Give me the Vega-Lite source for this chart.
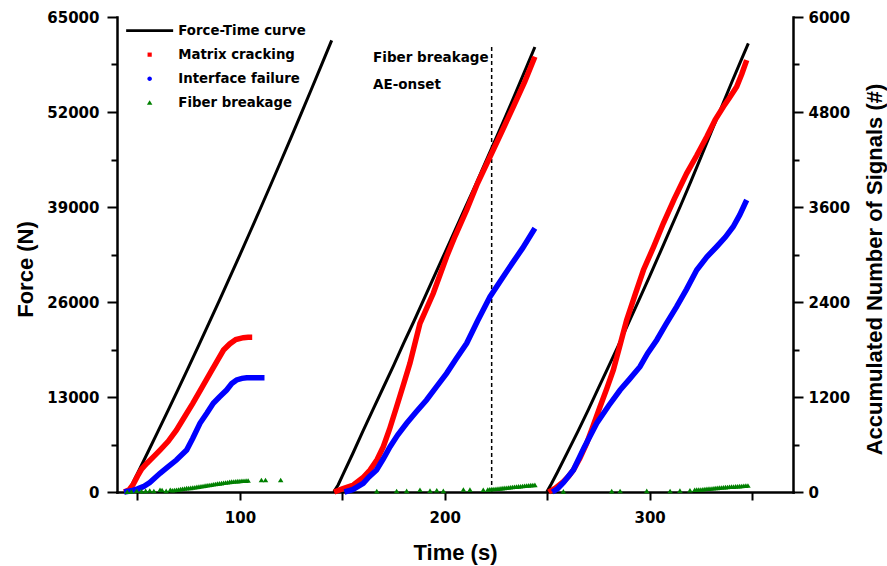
{
  "$schema": "https://vega.github.io/schema/vega-lite/v6.json",
  "width": 676,
  "height": 475,
  "autosize": {"type": "none"},
  "padding": {"left": 117, "top": 17, "right": 94, "bottom": 74},
  "background": "white",
  "config": {
    "view": {"stroke": null},
    "axis": {
      "grid": false,
      "domainColor": "black",
      "domainWidth": 2.5,
      "domainCap": "square",
      "tickColor": "black",
      "tickWidth": 2,
      "labelFont": "DejaVu Sans",
      "labelFontWeight": "bold",
      "labelFontSize": 15,
      "labelColor": "black",
      "titleFont": "Liberation Sans",
      "titleFontWeight": "bold",
      "titleFontSize": 22,
      "titleColor": "black"
    }
  },
  "datasets": {
    "force": [
      {"series": "Force-Time curve", "cycle": 1, "t": 45.5, "v": 0},
      {"series": "Force-Time curve", "cycle": 1, "t": 50, "v": 2545},
      {"series": "Force-Time curve", "cycle": 1, "t": 55, "v": 5401},
      {"series": "Force-Time curve", "cycle": 1, "t": 60, "v": 8287},
      {"series": "Force-Time curve", "cycle": 1, "t": 65, "v": 11203},
      {"series": "Force-Time curve", "cycle": 1, "t": 70, "v": 14149},
      {"series": "Force-Time curve", "cycle": 1, "t": 75, "v": 17125},
      {"series": "Force-Time curve", "cycle": 1, "t": 80, "v": 20131},
      {"series": "Force-Time curve", "cycle": 1, "t": 85, "v": 23167},
      {"series": "Force-Time curve", "cycle": 1, "t": 90, "v": 26233},
      {"series": "Force-Time curve", "cycle": 1, "t": 95, "v": 29329},
      {"series": "Force-Time curve", "cycle": 1, "t": 100, "v": 32455},
      {"series": "Force-Time curve", "cycle": 1, "t": 105, "v": 35611},
      {"series": "Force-Time curve", "cycle": 1, "t": 110, "v": 38797},
      {"series": "Force-Time curve", "cycle": 1, "t": 115, "v": 42013},
      {"series": "Force-Time curve", "cycle": 1, "t": 120, "v": 45259},
      {"series": "Force-Time curve", "cycle": 1, "t": 125, "v": 48535},
      {"series": "Force-Time curve", "cycle": 1, "t": 130, "v": 51841},
      {"series": "Force-Time curve", "cycle": 1, "t": 135, "v": 55177},
      {"series": "Force-Time curve", "cycle": 1, "t": 140, "v": 58543},
      {"series": "Force-Time curve", "cycle": 1, "t": 144.8, "v": 61802},
      {"series": "Force-Time curve", "cycle": 2, "t": 145.8, "v": 0},
      {"series": "Force-Time curve", "cycle": 2, "t": 148, "v": 1000},
      {"series": "Force-Time curve", "cycle": 2, "t": 150, "v": 2200},
      {"series": "Force-Time curve", "cycle": 2, "t": 155, "v": 5200},
      {"series": "Force-Time curve", "cycle": 2, "t": 160, "v": 8300},
      {"series": "Force-Time curve", "cycle": 2, "t": 165, "v": 11300},
      {"series": "Force-Time curve", "cycle": 2, "t": 170, "v": 14300},
      {"series": "Force-Time curve", "cycle": 2, "t": 175, "v": 17300},
      {"series": "Force-Time curve", "cycle": 2, "t": 180, "v": 20400},
      {"series": "Force-Time curve", "cycle": 2, "t": 185, "v": 23400},
      {"series": "Force-Time curve", "cycle": 2, "t": 190, "v": 26500},
      {"series": "Force-Time curve", "cycle": 2, "t": 195, "v": 29600},
      {"series": "Force-Time curve", "cycle": 2, "t": 200, "v": 32700},
      {"series": "Force-Time curve", "cycle": 2, "t": 205, "v": 35800},
      {"series": "Force-Time curve", "cycle": 2, "t": 210, "v": 38900},
      {"series": "Force-Time curve", "cycle": 2, "t": 215, "v": 42000},
      {"series": "Force-Time curve", "cycle": 2, "t": 220, "v": 45200},
      {"series": "Force-Time curve", "cycle": 2, "t": 225, "v": 48400},
      {"series": "Force-Time curve", "cycle": 2, "t": 230, "v": 51600},
      {"series": "Force-Time curve", "cycle": 2, "t": 235, "v": 54900},
      {"series": "Force-Time curve", "cycle": 2, "t": 240, "v": 58200},
      {"series": "Force-Time curve", "cycle": 2, "t": 244, "v": 60900},
      {"series": "Force-Time curve", "cycle": 3, "t": 249.8, "v": 0},
      {"series": "Force-Time curve", "cycle": 3, "t": 252, "v": 1100},
      {"series": "Force-Time curve", "cycle": 3, "t": 255, "v": 2700},
      {"series": "Force-Time curve", "cycle": 3, "t": 260, "v": 5500},
      {"series": "Force-Time curve", "cycle": 3, "t": 265, "v": 8300},
      {"series": "Force-Time curve", "cycle": 3, "t": 270, "v": 11200},
      {"series": "Force-Time curve", "cycle": 3, "t": 275, "v": 14200},
      {"series": "Force-Time curve", "cycle": 3, "t": 280, "v": 17200},
      {"series": "Force-Time curve", "cycle": 3, "t": 285, "v": 20200},
      {"series": "Force-Time curve", "cycle": 3, "t": 290, "v": 23300},
      {"series": "Force-Time curve", "cycle": 3, "t": 295, "v": 26400},
      {"series": "Force-Time curve", "cycle": 3, "t": 300, "v": 29500},
      {"series": "Force-Time curve", "cycle": 3, "t": 305, "v": 32700},
      {"series": "Force-Time curve", "cycle": 3, "t": 310, "v": 35900},
      {"series": "Force-Time curve", "cycle": 3, "t": 315, "v": 39100},
      {"series": "Force-Time curve", "cycle": 3, "t": 320, "v": 42400},
      {"series": "Force-Time curve", "cycle": 3, "t": 325, "v": 45800},
      {"series": "Force-Time curve", "cycle": 3, "t": 330, "v": 49200},
      {"series": "Force-Time curve", "cycle": 3, "t": 335, "v": 52600},
      {"series": "Force-Time curve", "cycle": 3, "t": 340, "v": 56000},
      {"series": "Force-Time curve", "cycle": 3, "t": 345, "v": 59300},
      {"series": "Force-Time curve", "cycle": 3, "t": 348.2, "v": 61400}
    ],
    "onset": [
      {"t": 222.9, "v": 0, "v2": 60900}
    ],
    "notes": [
      {"label": "Fiber breakage", "t": 165, "v": 58840},
      {"label": "AE-onset", "t": 165, "v": 55100}
    ],
    "signals": [
      {"series": "Matrix cracking", "cycle": 1, "t": 43.5, "v": 0},
      {"series": "Matrix cracking", "cycle": 1, "t": 46, "v": 30},
      {"series": "Matrix cracking", "cycle": 1, "t": 48, "v": 100},
      {"series": "Matrix cracking", "cycle": 1, "t": 50, "v": 200},
      {"series": "Matrix cracking", "cycle": 1, "t": 52, "v": 290},
      {"series": "Matrix cracking", "cycle": 1, "t": 54.5, "v": 360},
      {"series": "Matrix cracking", "cycle": 1, "t": 58, "v": 450},
      {"series": "Matrix cracking", "cycle": 1, "t": 61, "v": 530},
      {"series": "Matrix cracking", "cycle": 1, "t": 65, "v": 640},
      {"series": "Matrix cracking", "cycle": 1, "t": 69, "v": 780},
      {"series": "Matrix cracking", "cycle": 1, "t": 73, "v": 950},
      {"series": "Matrix cracking", "cycle": 1, "t": 77, "v": 1120},
      {"series": "Matrix cracking", "cycle": 1, "t": 81, "v": 1300},
      {"series": "Matrix cracking", "cycle": 1, "t": 85.4, "v": 1499},
      {"series": "Matrix cracking", "cycle": 1, "t": 89, "v": 1660},
      {"series": "Matrix cracking", "cycle": 1, "t": 92, "v": 1793},
      {"series": "Matrix cracking", "cycle": 1, "t": 95, "v": 1870},
      {"series": "Matrix cracking", "cycle": 1, "t": 98, "v": 1925},
      {"series": "Matrix cracking", "cycle": 1, "t": 101.7, "v": 1949},
      {"series": "Matrix cracking", "cycle": 1, "t": 104, "v": 1955},
      {"series": "Matrix cracking", "cycle": 1, "t": 106, "v": 1955},
      {"series": "Interface failure", "cycle": 1, "t": 43.5, "v": 0},
      {"series": "Interface failure", "cycle": 1, "t": 47, "v": 15},
      {"series": "Interface failure", "cycle": 1, "t": 50, "v": 40},
      {"series": "Interface failure", "cycle": 1, "t": 52.8, "v": 67},
      {"series": "Interface failure", "cycle": 1, "t": 56, "v": 120},
      {"series": "Interface failure", "cycle": 1, "t": 61, "v": 236},
      {"series": "Interface failure", "cycle": 1, "t": 65, "v": 320},
      {"series": "Interface failure", "cycle": 1, "t": 69, "v": 404},
      {"series": "Interface failure", "cycle": 1, "t": 74, "v": 530},
      {"series": "Interface failure", "cycle": 1, "t": 77, "v": 680},
      {"series": "Interface failure", "cycle": 1, "t": 80.5, "v": 868},
      {"series": "Interface failure", "cycle": 1, "t": 84, "v": 1000},
      {"series": "Interface failure", "cycle": 1, "t": 87, "v": 1120},
      {"series": "Interface failure", "cycle": 1, "t": 90, "v": 1200},
      {"series": "Interface failure", "cycle": 1, "t": 93.5, "v": 1288},
      {"series": "Interface failure", "cycle": 1, "t": 96, "v": 1370},
      {"series": "Interface failure", "cycle": 1, "t": 98.4, "v": 1415},
      {"series": "Interface failure", "cycle": 1, "t": 101, "v": 1435},
      {"series": "Interface failure", "cycle": 1, "t": 103.3, "v": 1444},
      {"series": "Interface failure", "cycle": 1, "t": 106, "v": 1444},
      {"series": "Interface failure", "cycle": 1, "t": 110, "v": 1444},
      {"series": "Interface failure", "cycle": 1, "t": 112, "v": 1444},
      {"series": "Matrix cracking", "cycle": 2, "t": 146, "v": 0},
      {"series": "Matrix cracking", "cycle": 2, "t": 150, "v": 40},
      {"series": "Matrix cracking", "cycle": 2, "t": 155.4, "v": 88},
      {"series": "Matrix cracking", "cycle": 2, "t": 160, "v": 180},
      {"series": "Matrix cracking", "cycle": 2, "t": 163.5, "v": 278},
      {"series": "Matrix cracking", "cycle": 2, "t": 167, "v": 410},
      {"series": "Matrix cracking", "cycle": 2, "t": 170, "v": 572},
      {"series": "Matrix cracking", "cycle": 2, "t": 173, "v": 790},
      {"series": "Matrix cracking", "cycle": 2, "t": 176.5, "v": 1077},
      {"series": "Matrix cracking", "cycle": 2, "t": 180, "v": 1370},
      {"series": "Matrix cracking", "cycle": 2, "t": 183, "v": 1625},
      {"series": "Matrix cracking", "cycle": 2, "t": 187.9, "v": 2131},
      {"series": "Matrix cracking", "cycle": 2, "t": 194.4, "v": 2510},
      {"series": "Matrix cracking", "cycle": 2, "t": 200.9, "v": 2972},
      {"series": "Matrix cracking", "cycle": 2, "t": 205, "v": 3230},
      {"series": "Matrix cracking", "cycle": 2, "t": 210.7, "v": 3562},
      {"series": "Matrix cracking", "cycle": 2, "t": 216, "v": 3900},
      {"series": "Matrix cracking", "cycle": 2, "t": 222.1, "v": 4235},
      {"series": "Matrix cracking", "cycle": 2, "t": 228, "v": 4560},
      {"series": "Matrix cracking", "cycle": 2, "t": 233.5, "v": 4867},
      {"series": "Matrix cracking", "cycle": 2, "t": 239, "v": 5180},
      {"series": "Matrix cracking", "cycle": 2, "t": 244, "v": 5498},
      {"series": "Interface failure", "cycle": 2, "t": 151, "v": 0},
      {"series": "Interface failure", "cycle": 2, "t": 155, "v": 30},
      {"series": "Interface failure", "cycle": 2, "t": 160.2, "v": 110},
      {"series": "Interface failure", "cycle": 2, "t": 163, "v": 190},
      {"series": "Interface failure", "cycle": 2, "t": 166.7, "v": 278},
      {"series": "Interface failure", "cycle": 2, "t": 170, "v": 420},
      {"series": "Interface failure", "cycle": 2, "t": 173.3, "v": 572},
      {"series": "Interface failure", "cycle": 2, "t": 177, "v": 720},
      {"series": "Interface failure", "cycle": 2, "t": 181.4, "v": 868},
      {"series": "Interface failure", "cycle": 2, "t": 186, "v": 1010},
      {"series": "Interface failure", "cycle": 2, "t": 191.1, "v": 1162},
      {"series": "Interface failure", "cycle": 2, "t": 196, "v": 1330},
      {"series": "Interface failure", "cycle": 2, "t": 200.9, "v": 1499},
      {"series": "Interface failure", "cycle": 2, "t": 205.5, "v": 1680},
      {"series": "Interface failure", "cycle": 2, "t": 210.7, "v": 1878},
      {"series": "Interface failure", "cycle": 2, "t": 216, "v": 2160},
      {"series": "Interface failure", "cycle": 2, "t": 222.1, "v": 2467},
      {"series": "Interface failure", "cycle": 2, "t": 227, "v": 2660},
      {"series": "Interface failure", "cycle": 2, "t": 231.8, "v": 2846},
      {"series": "Interface failure", "cycle": 2, "t": 238, "v": 3080},
      {"series": "Interface failure", "cycle": 2, "t": 244, "v": 3331},
      {"series": "Matrix cracking", "cycle": 3, "t": 250.7, "v": 0},
      {"series": "Matrix cracking", "cycle": 3, "t": 254, "v": 50},
      {"series": "Matrix cracking", "cycle": 3, "t": 257.9, "v": 130},
      {"series": "Matrix cracking", "cycle": 3, "t": 260.5, "v": 200},
      {"series": "Matrix cracking", "cycle": 3, "t": 262.8, "v": 278},
      {"series": "Matrix cracking", "cycle": 3, "t": 266, "v": 430},
      {"series": "Matrix cracking", "cycle": 3, "t": 269.3, "v": 615},
      {"series": "Matrix cracking", "cycle": 3, "t": 272.5, "v": 840},
      {"series": "Matrix cracking", "cycle": 3, "t": 275.8, "v": 1077},
      {"series": "Matrix cracking", "cycle": 3, "t": 279, "v": 1300},
      {"series": "Matrix cracking", "cycle": 3, "t": 282.3, "v": 1541},
      {"series": "Matrix cracking", "cycle": 3, "t": 285.5, "v": 1850},
      {"series": "Matrix cracking", "cycle": 3, "t": 288.8, "v": 2172},
      {"series": "Matrix cracking", "cycle": 3, "t": 293, "v": 2500},
      {"series": "Matrix cracking", "cycle": 3, "t": 297, "v": 2804},
      {"series": "Matrix cracking", "cycle": 3, "t": 302, "v": 3100},
      {"series": "Matrix cracking", "cycle": 3, "t": 306.7, "v": 3394},
      {"series": "Matrix cracking", "cycle": 3, "t": 312, "v": 3700},
      {"series": "Matrix cracking", "cycle": 3, "t": 318.1, "v": 4025},
      {"series": "Matrix cracking", "cycle": 3, "t": 323, "v": 4250},
      {"series": "Matrix cracking", "cycle": 3, "t": 327.9, "v": 4488},
      {"series": "Matrix cracking", "cycle": 3, "t": 332, "v": 4700},
      {"series": "Matrix cracking", "cycle": 3, "t": 336, "v": 4867},
      {"series": "Matrix cracking", "cycle": 3, "t": 339, "v": 4980},
      {"series": "Matrix cracking", "cycle": 3, "t": 342.5, "v": 5119},
      {"series": "Matrix cracking", "cycle": 3, "t": 345, "v": 5280},
      {"series": "Matrix cracking", "cycle": 3, "t": 347.4, "v": 5456},
      {"series": "Interface failure", "cycle": 3, "t": 252.5, "v": 0},
      {"series": "Interface failure", "cycle": 3, "t": 255, "v": 40},
      {"series": "Interface failure", "cycle": 3, "t": 258, "v": 120},
      {"series": "Interface failure", "cycle": 3, "t": 262.8, "v": 278},
      {"series": "Interface failure", "cycle": 3, "t": 268, "v": 560},
      {"series": "Interface failure", "cycle": 3, "t": 274.2, "v": 868},
      {"series": "Interface failure", "cycle": 3, "t": 280, "v": 1090},
      {"series": "Interface failure", "cycle": 3, "t": 285.6, "v": 1288},
      {"series": "Interface failure", "cycle": 3, "t": 290, "v": 1420},
      {"series": "Interface failure", "cycle": 3, "t": 295.3, "v": 1583},
      {"series": "Interface failure", "cycle": 3, "t": 299, "v": 1750},
      {"series": "Interface failure", "cycle": 3, "t": 303.5, "v": 1920},
      {"series": "Interface failure", "cycle": 3, "t": 308, "v": 2120},
      {"series": "Interface failure", "cycle": 3, "t": 313.2, "v": 2341},
      {"series": "Interface failure", "cycle": 3, "t": 318, "v": 2560},
      {"series": "Interface failure", "cycle": 3, "t": 323, "v": 2804},
      {"series": "Interface failure", "cycle": 3, "t": 328, "v": 2970},
      {"series": "Interface failure", "cycle": 3, "t": 332.7, "v": 3098},
      {"series": "Interface failure", "cycle": 3, "t": 337, "v": 3220},
      {"series": "Interface failure", "cycle": 3, "t": 340.8, "v": 3351},
      {"series": "Interface failure", "cycle": 3, "t": 344, "v": 3500},
      {"series": "Interface failure", "cycle": 3, "t": 347.4, "v": 3688}
    ],
    "fiber": [
      {"series": "Fiber breakage", "t": 45, "v": 0},
      {"series": "Fiber breakage", "t": 47, "v": 5},
      {"series": "Fiber breakage", "t": 49.6, "v": 13},
      {"series": "Fiber breakage", "t": 52, "v": 8},
      {"series": "Fiber breakage", "t": 54, "v": 12},
      {"series": "Fiber breakage", "t": 56, "v": 17},
      {"series": "Fiber breakage", "t": 58, "v": 10},
      {"series": "Fiber breakage", "t": 61, "v": 25},
      {"series": "Fiber breakage", "t": 62, "v": 22},
      {"series": "Fiber breakage", "t": 64, "v": 12},
      {"series": "Fiber breakage", "t": 66, "v": 25},
      {"series": "Fiber breakage", "t": 67, "v": 20},
      {"series": "Fiber breakage", "t": 68, "v": 22},
      {"series": "Fiber breakage", "t": 69, "v": 26},
      {"series": "Fiber breakage", "t": 70, "v": 30},
      {"series": "Fiber breakage", "t": 71, "v": 34},
      {"series": "Fiber breakage", "t": 72, "v": 38},
      {"series": "Fiber breakage", "t": 73, "v": 42},
      {"series": "Fiber breakage", "t": 74, "v": 46},
      {"series": "Fiber breakage", "t": 75, "v": 48},
      {"series": "Fiber breakage", "t": 76, "v": 50},
      {"series": "Fiber breakage", "t": 77, "v": 54},
      {"series": "Fiber breakage", "t": 78, "v": 58},
      {"series": "Fiber breakage", "t": 79, "v": 62},
      {"series": "Fiber breakage", "t": 80, "v": 66},
      {"series": "Fiber breakage", "t": 81, "v": 70},
      {"series": "Fiber breakage", "t": 82, "v": 74},
      {"series": "Fiber breakage", "t": 83, "v": 78},
      {"series": "Fiber breakage", "t": 84, "v": 82},
      {"series": "Fiber breakage", "t": 85, "v": 86},
      {"series": "Fiber breakage", "t": 86, "v": 90},
      {"series": "Fiber breakage", "t": 87, "v": 95},
      {"series": "Fiber breakage", "t": 88, "v": 99},
      {"series": "Fiber breakage", "t": 89, "v": 103},
      {"series": "Fiber breakage", "t": 90, "v": 106},
      {"series": "Fiber breakage", "t": 91, "v": 110},
      {"series": "Fiber breakage", "t": 92, "v": 114},
      {"series": "Fiber breakage", "t": 93, "v": 117},
      {"series": "Fiber breakage", "t": 94, "v": 121},
      {"series": "Fiber breakage", "t": 95, "v": 125},
      {"series": "Fiber breakage", "t": 96, "v": 128},
      {"series": "Fiber breakage", "t": 97, "v": 130},
      {"series": "Fiber breakage", "t": 98, "v": 133},
      {"series": "Fiber breakage", "t": 99, "v": 135},
      {"series": "Fiber breakage", "t": 100, "v": 137},
      {"series": "Fiber breakage", "t": 101, "v": 139},
      {"series": "Fiber breakage", "t": 102, "v": 140},
      {"series": "Fiber breakage", "t": 103, "v": 141},
      {"series": "Fiber breakage", "t": 104, "v": 143},
      {"series": "Fiber breakage", "t": 110.5, "v": 150},
      {"series": "Fiber breakage", "t": 112.5, "v": 150},
      {"series": "Fiber breakage", "t": 119.9, "v": 150},
      {"series": "Fiber breakage", "t": 166.8, "v": 8},
      {"series": "Fiber breakage", "t": 176.5, "v": 10},
      {"series": "Fiber breakage", "t": 181.4, "v": 12},
      {"series": "Fiber breakage", "t": 187.9, "v": 25},
      {"series": "Fiber breakage", "t": 192.8, "v": 15},
      {"series": "Fiber breakage", "t": 196.1, "v": 20},
      {"series": "Fiber breakage", "t": 199.3, "v": 12},
      {"series": "Fiber breakage", "t": 209.1, "v": 30},
      {"series": "Fiber breakage", "t": 212.3, "v": 28},
      {"series": "Fiber breakage", "t": 218.8, "v": 25},
      {"series": "Fiber breakage", "t": 221, "v": 30},
      {"series": "Fiber breakage", "t": 222, "v": 32},
      {"series": "Fiber breakage", "t": 223, "v": 35},
      {"series": "Fiber breakage", "t": 224, "v": 36},
      {"series": "Fiber breakage", "t": 225, "v": 38},
      {"series": "Fiber breakage", "t": 226, "v": 40},
      {"series": "Fiber breakage", "t": 227, "v": 43},
      {"series": "Fiber breakage", "t": 228, "v": 46},
      {"series": "Fiber breakage", "t": 229, "v": 49},
      {"series": "Fiber breakage", "t": 230, "v": 52},
      {"series": "Fiber breakage", "t": 231, "v": 55},
      {"series": "Fiber breakage", "t": 232, "v": 58},
      {"series": "Fiber breakage", "t": 233, "v": 60},
      {"series": "Fiber breakage", "t": 234, "v": 63},
      {"series": "Fiber breakage", "t": 235, "v": 66},
      {"series": "Fiber breakage", "t": 236, "v": 68},
      {"series": "Fiber breakage", "t": 237, "v": 71},
      {"series": "Fiber breakage", "t": 238, "v": 73},
      {"series": "Fiber breakage", "t": 239, "v": 76},
      {"series": "Fiber breakage", "t": 240, "v": 79},
      {"series": "Fiber breakage", "t": 241, "v": 81},
      {"series": "Fiber breakage", "t": 242, "v": 84},
      {"series": "Fiber breakage", "t": 243, "v": 86},
      {"series": "Fiber breakage", "t": 244, "v": 88},
      {"series": "Fiber breakage", "t": 257.9, "v": 5},
      {"series": "Fiber breakage", "t": 281.5, "v": 8},
      {"series": "Fiber breakage", "t": 285.6, "v": 10},
      {"series": "Fiber breakage", "t": 298.6, "v": 12},
      {"series": "Fiber breakage", "t": 310, "v": 10},
      {"series": "Fiber breakage", "t": 314.8, "v": 15},
      {"series": "Fiber breakage", "t": 319.7, "v": 20},
      {"series": "Fiber breakage", "t": 322, "v": 26},
      {"series": "Fiber breakage", "t": 323, "v": 28},
      {"series": "Fiber breakage", "t": 324, "v": 29},
      {"series": "Fiber breakage", "t": 325, "v": 30},
      {"series": "Fiber breakage", "t": 326, "v": 33},
      {"series": "Fiber breakage", "t": 327, "v": 35},
      {"series": "Fiber breakage", "t": 328, "v": 38},
      {"series": "Fiber breakage", "t": 329, "v": 40},
      {"series": "Fiber breakage", "t": 330, "v": 42},
      {"series": "Fiber breakage", "t": 331, "v": 44},
      {"series": "Fiber breakage", "t": 332, "v": 48},
      {"series": "Fiber breakage", "t": 333, "v": 50},
      {"series": "Fiber breakage", "t": 334, "v": 53},
      {"series": "Fiber breakage", "t": 335, "v": 55},
      {"series": "Fiber breakage", "t": 336, "v": 57},
      {"series": "Fiber breakage", "t": 337, "v": 59},
      {"series": "Fiber breakage", "t": 338, "v": 61},
      {"series": "Fiber breakage", "t": 339, "v": 63},
      {"series": "Fiber breakage", "t": 340, "v": 65},
      {"series": "Fiber breakage", "t": 341, "v": 66},
      {"series": "Fiber breakage", "t": 342, "v": 68},
      {"series": "Fiber breakage", "t": 343, "v": 70},
      {"series": "Fiber breakage", "t": 344, "v": 72},
      {"series": "Fiber breakage", "t": 345, "v": 74},
      {"series": "Fiber breakage", "t": 346, "v": 76},
      {"series": "Fiber breakage", "t": 347, "v": 78},
      {"series": "Fiber breakage", "t": 348, "v": 80}
    ]
  },
  "layer": [
    {
      "encoding": {
        "x": {
          "field": "t",
          "type": "quantitative",
          "scale": {"domain": [40, 370], "nice": false, "zero": false},
          "axis": {
            "title": "Time (s)",
            "values": [50, 100, 150, 200, 250, 300, 350],
            "labelExpr": "datum.value % 100 === 0 ? datum.label : ''",
            "tickSize": 8,
            "labelPadding": 10,
            "titleX": 338,
            "titleY": 67,
            "titleBaseline": "alphabetic"
          }
        },
        "y": {
          "field": "v",
          "type": "quantitative",
          "scale": {"domain": [0, 65000], "nice": false},
          "axis": {
            "title": "Force (N)",
            "orient": "left",
            "values": [0, 6500, 13000, 19500, 26000, 32500, 39000, 45500, 52000, 58500, 65000],
            "format": "d",
            "labelExpr": "datum.value % 13000 === 0 ? datum.label : ''",
            "tickSize": {"condition": {"test": "datum.value % 13000 === 0", "value": 10}, "value": 6},
            "labelPadding": 8,
            "titleAngle": 270,
            "titleX": -92,
            "titleY": 252,
            "titleAlign": "center",
            "titleBaseline": "middle"
          }
        }
      },
      "layer": [
        {
          "data": {"name": "force"},
          "mark": {"type": "line", "strokeWidth": 3},
          "encoding": {
            "detail": {"field": "cycle", "type": "nominal"},
            "order": {"field": "t", "type": "quantitative"},
            "color": {
              "field": "series",
              "type": "nominal",
              "scale": {
                "domain": ["Force-Time curve", "Matrix cracking", "Interface failure", "Fiber breakage"],
                "range": ["#000000", "#ff0000", "#0000ff", "#008000"]
              },
              "legend": {
                "title": null,
                "orient": "none",
                "legendX": 26,
                "legendY": 7,
                "padding": 0,
                "symbolSize": 100,
                "symbolStrokeWidth": 0,
                "labelFont": "DejaVu Sans",
                "labelFontWeight": "bold",
                "labelFontSize": 13.3,
                "labelColor": "black",
                "labelOffset": 22,
                "labelLimit": 300,
                "rowPadding": 10,
                "encode": {"symbols": {"update": {"fill": {"scale": "color", "field": "value"}, "stroke": {"value": "transparent"}, "opacity": {"value": 1}}}}
              }
            }
          }
        },
        {
          "data": {"name": "onset"},
          "mark": {"type": "rule", "color": "black", "strokeWidth": 1.5, "strokeDash": [4, 3]},
          "encoding": {"y2": {"field": "v2"}}
        },
        {
          "data": {"name": "notes"},
          "mark": {"type": "text", "align": "left", "baseline": "alphabetic", "font": "DejaVu Sans", "fontWeight": "bold", "fontSize": 13.5, "color": "black"},
          "encoding": {"text": {"field": "label", "type": "nominal"}}
        }
      ]
    },
    {
      "encoding": {
        "x": {"field": "t", "type": "quantitative"},
        "y": {
          "field": "v",
          "type": "quantitative",
          "scale": {"domain": [0, 6000], "nice": false},
          "axis": {
            "title": "Accumulated Number of Signals (#)",
            "orient": "right",
            "values": [0, 600, 1200, 1800, 2400, 3000, 3600, 4200, 4800, 5400, 6000],
            "format": "d",
            "labelExpr": "datum.value % 1200 === 0 ? datum.label : ''",
            "tickSize": {"condition": {"test": "datum.value % 1200 === 0", "value": 10}, "value": 6},
            "labelPadding": 5,
            "titleAngle": 270,
            "titleX": 81,
            "titleY": 252,
            "titleAlign": "center",
            "titleBaseline": "middle"
          }
        }
      },
      "layer": [
        {
          "data": {"name": "signals"},
          "mark": {"type": "line", "strokeWidth": 5.5},
          "encoding": {
            "detail": {"field": "cycle", "type": "nominal"},
            "order": {"field": "t", "type": "quantitative"},
            "color": {"field": "series", "type": "nominal"}
          }
        },
        {
          "data": {"name": "fiber"},
          "mark": {"type": "point", "filled": true, "size": 100, "opacity": 1, "strokeWidth": 0},
          "encoding": {
            "color": {"field": "series", "type": "nominal"},
            "shape": {
              "field": "series",
              "type": "nominal",
              "scale": {
                "domain": ["Force-Time curve", "Matrix cracking", "Interface failure", "Fiber breakage"],
                "range": [
                  "M-4.7,-0.27H4.7V0.27H-4.7Z",
                  "M-0.42,-0.42H0.42V0.42H-0.42Z",
                  "M-0.45,0A0.45,0.45,0,1,1,0.45,0A0.45,0.45,0,1,1,-0.45,0Z",
                  "M0,-0.5L0.55,0.42H-0.55Z"
                ]
              },
              "legend": {
                "title": null,
                "orient": "none",
                "legendX": 26,
                "legendY": 7,
                "padding": 0,
                "symbolSize": 100,
                "labelFont": "DejaVu Sans",
                "labelFontWeight": "bold",
                "labelFontSize": 13.3,
                "labelColor": "black",
                "labelOffset": 22,
                "labelLimit": 300,
                "rowPadding": 10
              }
            }
          }
        }
      ]
    }
  ],
  "resolve": {"scale": {"y": "independent"}}
}
